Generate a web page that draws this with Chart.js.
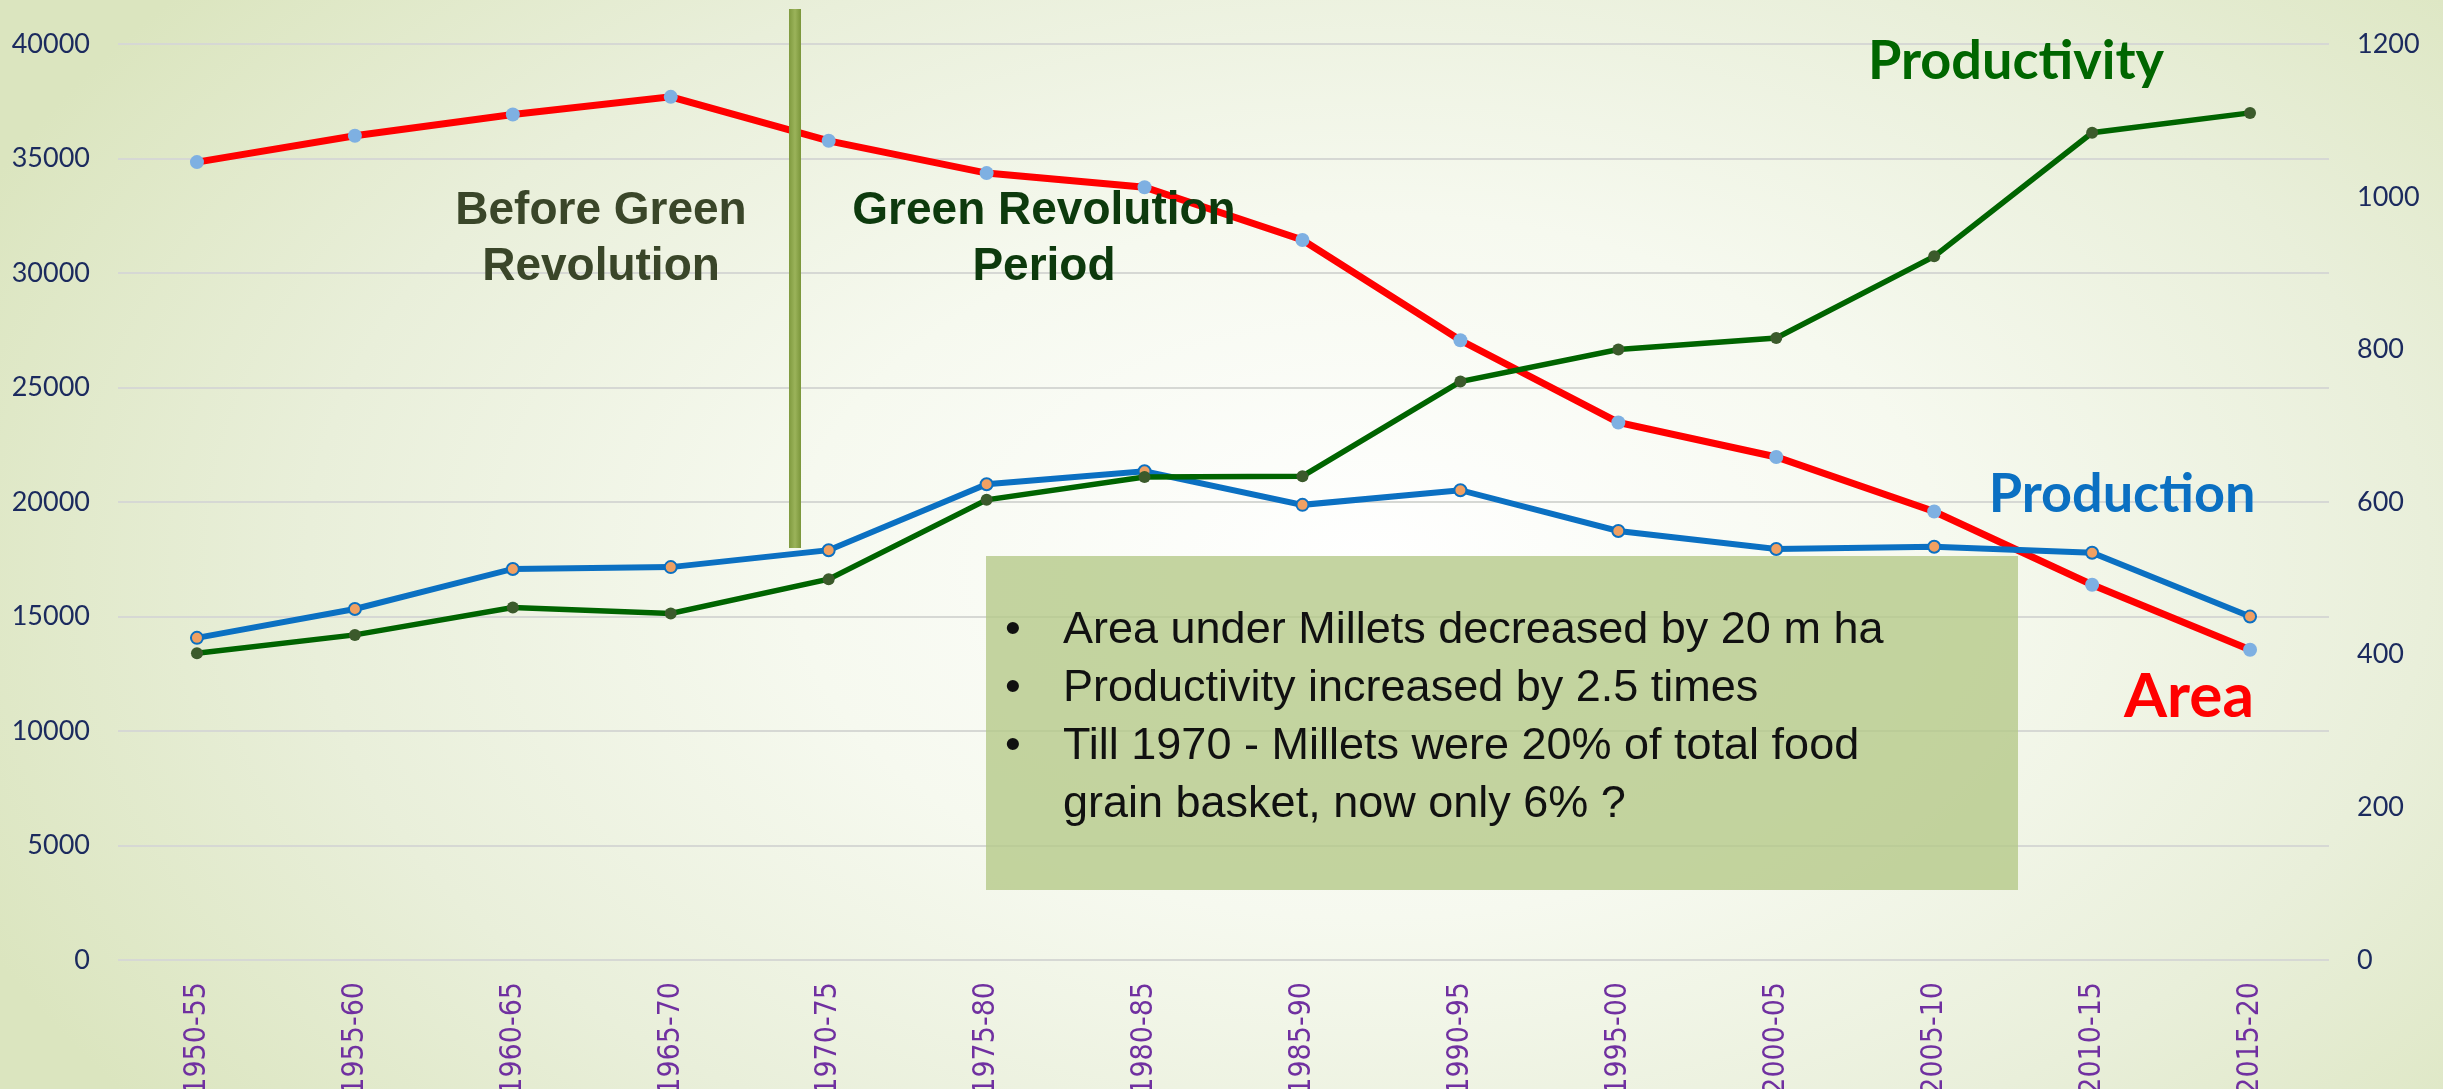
<!DOCTYPE html>
<html>
<head>
<meta charset="utf-8">
<title>Millets - Area, Production, Productivity</title>
<script src="https://cdn.jsdelivr.net/npm/chart.js@4.4.1/dist/chart.umd.min.js"></script>
<style>
  html, body {
    margin: 0;
    padding: 0;
    overflow: hidden;
    width: 2443px;
    height: 1089px;
  }
  body {
    background: radial-gradient(ellipse 62% 85% at 56% 52%, #ffffff 0%, #f6f9ef 38%, #e9efda 70%, #dbe5bf 100%);
  }
  canvas { display: block; }
</style>
</head>
<body>
<canvas id="milletChart" width="2443" height="1089"></canvas>
<script>
// periods on the x axis
const periods = ['1950-55', '1955-60', '1960-65', '1965-70', '1970-75', '1975-80', '1980-85',
                 '1985-90', '1990-95', '1995-00', '2000-05', '2005-10', '2010-15', '2015-20'];

// area ('000 ha) - left axis
const area = [34850, 36000, 36930, 37700, 35780, 34370, 33750, 31450, 27070, 23480, 21970, 19590, 16390, 13550];

// production ('000 t) - left axis
const production = [14070, 15330, 17080, 17160, 17900, 20780, 21350, 19880, 20520, 18740, 17950, 18050, 17790, 15000];

// productivity (kg/ha) - right axis
const productivity = [402, 426, 462, 454, 499, 603, 633, 634, 758, 800, 815, 922, 1084, 1110];

// axis ranges
const leftMax = 40000, leftStep = 5000;
const rightMax = 1200, rightStep = 200;

// text inside the green box
const notes = [
    'Area under Millets decreased by 20 m ha',
    'Productivity increased by 2.5 times',
    'Till 1970 - Millets were 20% of total food',
    'grain basket, now only 6% ?'
];
const noteBullets = [true, true, true, false];

// draws the box behind the lines, labels and the divider on top
const annotations = {
    id: 'annotations',
    beforeDatasetsDraw(chart) {
        const ctx = chart.ctx;
        ctx.save();
        ctx.fillStyle = 'rgba(180, 200, 135, 0.78)';
        ctx.fillRect(986, 556, 1032, 334);
        ctx.restore();
    },
    afterDatasetsDraw(chart) {
        const ctx = chart.ctx;
        ctx.save();

        // green revolution divider
        const grad = ctx.createLinearGradient(789, 0, 801, 0);
        grad.addColorStop(0, '#7f9a3f');
        grad.addColorStop(0.5, '#9bb35a');
        grad.addColorStop(1, '#7a953a');
        ctx.fillStyle = grad;
        ctx.fillRect(789, 9, 12, 539);

        ctx.textAlign = 'center';
        ctx.textBaseline = 'middle';

        ctx.font = 'bold 46px "Liberation Sans", Arial, sans-serif';
        ctx.fillStyle = '#3a4629';
        ctx.fillText('Before Green', 601, 211);
        ctx.fillText('Revolution', 601, 267);

        ctx.fillStyle = '#0d3a0d';
        ctx.fillText('Green Revolution', 1044, 211);
        ctx.fillText('Period', 1044, 267);

        ctx.font = 'bold 54px Lato, sans-serif';
        ctx.fillStyle = '#006600';
        ctx.fillText('Productivity', 2016, 62);

        ctx.fillStyle = '#0b70c2';
        ctx.fillText('Production', 2122, 495);

        ctx.font = 'bold 62px Lato, sans-serif';
        ctx.fillStyle = '#ff0000';
        ctx.fillText('Area', 2189, 697);

        // notes
        ctx.textAlign = 'left';
        ctx.font = '45px "Liberation Sans", Arial, sans-serif';
        ctx.fillStyle = '#111111';
        notes.forEach((line, i) => {
            const y = 631 + i * 58;
            if (noteBullets[i]) ctx.fillText('•', 1005, y);
            ctx.fillText(line, 1063, y);
        });

        ctx.restore();
    }
};

const plainTick = value => String(value);

const ctx = document.getElementById('milletChart').getContext('2d');

new Chart(ctx, {
    type: 'line',
    data: {
        labels: periods,
        datasets: [{
            label: 'Area',
            data: area,
            yAxisID: 'y',
            order: 2,
            borderColor: '#ff0000',
            borderWidth: 7,
            pointRadius: 7,
            pointBackgroundColor: '#7eb0e2',
            pointBorderColor: '#7eb0e2',
            pointBorderWidth: 0,
            tension: 0
        }, {
            label: 'Production',
            data: production,
            yAxisID: 'y',
            order: 1,
            borderColor: '#0b70c2',
            borderWidth: 6,
            pointRadius: 6,
            pointBackgroundColor: '#f0a062',
            pointBorderColor: '#0b70c2',
            pointBorderWidth: 2,
            tension: 0
        }, {
            label: 'Productivity',
            data: productivity,
            yAxisID: 'y1',
            order: 0,
            borderColor: '#006400',
            borderWidth: 5.5,
            pointRadius: 6,
            pointBackgroundColor: '#3b5a2b',
            pointBorderColor: '#3b5a2b',
            pointBorderWidth: 0,
            tension: 0
        }]
    },
    options: {
        responsive: false,
        animation: false,
        devicePixelRatio: 1,
        layout: { padding: { top: 44, left: 0, right: 0, bottom: 0 } },
        plugins: {
            legend: { display: false },
            tooltip: { enabled: false }
        },
        scales: {
            x: {
                offset: true,
                grid: { display: false, drawTicks: false, offset: true },
                border: { display: false },
                ticks: {
                    color: '#7030a0',
                    font: { family: '"DejaVu Sans Condensed", "DejaVu Sans", sans-serif', size: 30 },
                    minRotation: 90,
                    maxRotation: 90,
                    autoSkip: false,
                    padding: 22
                },
                afterFit: scale => { scale.height = 129; }
            },
            y: {
                position: 'left',
                min: 0,
                max: leftMax,
                grid: { color: '#d6d8d4', lineWidth: 2, drawTicks: false },
                border: { display: false },
                ticks: {
                    stepSize: leftStep,
                    color: '#1b2a5e',
                    font: { family: 'Lato, sans-serif', size: 27 },
                    padding: 28,
                    callback: plainTick
                },
                afterFit: scale => { scale.width = 118; }
            },
            y1: {
                position: 'right',
                min: 0,
                max: rightMax,
                grid: { display: false, drawTicks: false },
                border: { display: false },
                ticks: {
                    stepSize: rightStep,
                    color: '#1b2a5e',
                    font: { family: 'Lato, sans-serif', size: 27 },
                    padding: 28,
                    callback: plainTick
                },
                afterFit: scale => { scale.width = 114; }
            }
        }
    },
    plugins: [annotations]
});
</script>
</body>
</html>
